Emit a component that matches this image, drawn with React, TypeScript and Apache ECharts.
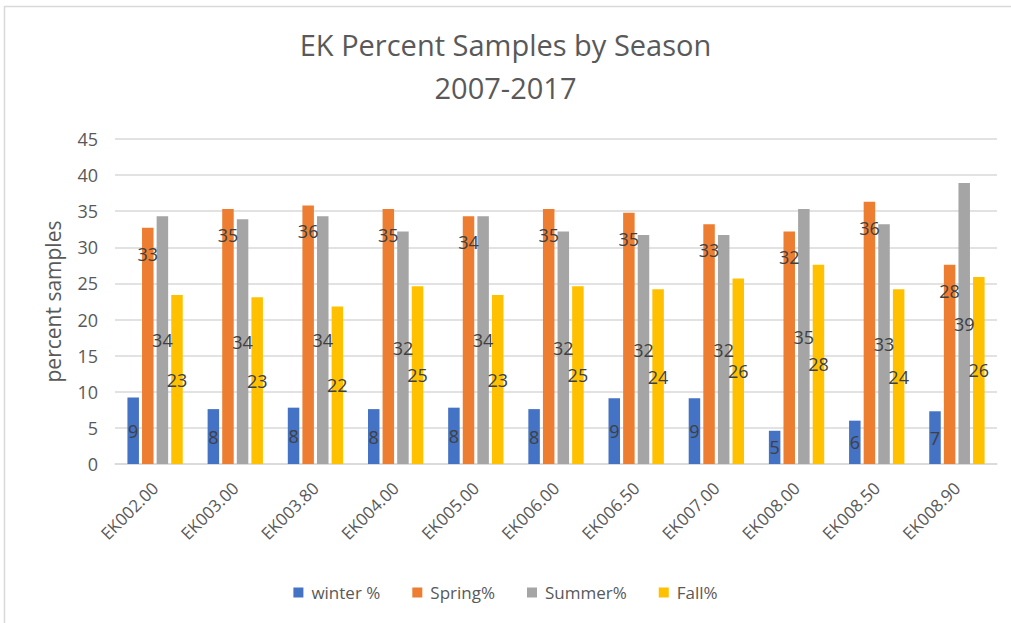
import React, { useEffect, useRef } from "react";
import * as echarts from "echarts";

const categories = ["EK002.00", "EK003.00", "EK003.80", "EK004.00", "EK005.00", "EK006.00", "EK006.50", "EK007.00", "EK008.00", "EK008.50", "EK008.90"];
const winter = [9.2, 7.6, 7.8, 7.6, 7.8, 7.6, 9.1, 9.1, 4.6, 6.0, 7.3];
const spring = [32.7, 35.3, 35.8, 35.3, 34.3, 35.3, 34.8, 33.2, 32.2, 36.3, 27.6];
const summer = [34.3, 33.9, 34.3, 32.2, 34.3, 32.2, 31.7, 31.7, 35.3, 33.2, 38.9];
const fall = [23.4, 23.1, 21.8, 24.6, 23.4, 24.6, 24.2, 25.7, 27.6, 24.2, 25.9];
const seriesNames = ["winter %", "Spring%", "Summer%", "Fall%"];
const titleLines = ["EK Percent Samples by Season", "2007-2017"];
const yAxisName = "percent samples";

const FONT = "'Open Sans', sans-serif";

export default function App() {
  const ref = useRef<HTMLDivElement>(null);
  useEffect(() => {
    const chart = echarts.init(ref.current!, null, { renderer: "svg" });
    const labelBase = {
      show: true,
      color: "#404040",
      fontSize: 18,
      fontFamily: FONT,
      lineHeight: 18,
      formatter: (p: any) => String(Math.round(p.value)),
    };
    const mk = (name: string, data: number[], color: string, label: any) => ({
      name,
      type: "bar",
      data,
      itemStyle: { color },
      barGap: "27%",
      barCategoryGap: "31%",
      label,
    });
    chart.setOption({
      animation: false,
      backgroundColor: "#fff",
      title: {
        text: titleLines.join("\n"),
        left: "center",
        top: 18,
        textStyle: {
          color: "#595959",
          fontSize: 29,
          fontWeight: "normal",
          fontFamily: FONT,
          lineHeight: 43,
        },
      },
      graphic: [
        {
          type: "rect",
          shape: { x: 4.5, y: 6.5, width: 1200, height: 800 },
          style: { fill: "none", stroke: "#d9d9d9", lineWidth: 1.5 },
          silent: true,
        },
      ],
      legend: {
        bottom: 17,
        left: "center",
        itemWidth: 10,
        itemHeight: 10,
        itemGap: 32,
        icon: "rect",
        data: seriesNames,
        textStyle: { color: "#595959", fontSize: 17, fontFamily: FONT, padding: [0, 0, 0, 3] },
      },
      grid: { left: 115, right: 14, top: 139, bottom: 159 },
      xAxis: {
        type: "category",
        data: categories,
        axisLine: { lineStyle: { color: "#d9d9d9", width: 1.5 } },
        axisTick: { show: false },
        axisLabel: {
          rotate: 45,
          color: "#595959",
          fontSize: 17,
          fontFamily: FONT,
          margin: 21,
          interval: 0,
        },
      },
      yAxis: {
        type: "value",
        min: 0,
        max: 45,
        interval: 5,
        name: yAxisName,
        nameLocation: "middle",
        nameGap: 52,
        nameTextStyle: { color: "#595959", fontSize: 21, fontFamily: FONT },
        axisLine: { show: false },
        axisTick: { show: false },
        splitLine: { lineStyle: { color: "#d9d9d9", width: 1.5 } },
        axisLabel: { color: "#595959", fontSize: 18, fontFamily: FONT, margin: 17 },
      },
      series: [
        mk(seriesNames[0], winter, "#4472C4", { ...labelBase, position: "inside" }),
        mk(seriesNames[1], spring, "#ED7D31", { ...labelBase, position: "insideTop", distance: 17 }),
        mk(seriesNames[2], summer, "#A5A5A5", { ...labelBase, position: "inside" }),
        mk(seriesNames[3], fall, "#FFC000", { ...labelBase, position: "inside" }),
      ],
    });
    return () => chart.dispose();
  }, []);
  return (
    <div
      ref={ref}
      style={{ position: "fixed", left: 0, top: 0, width: 1011, height: 623 }}
    />
  );
}
